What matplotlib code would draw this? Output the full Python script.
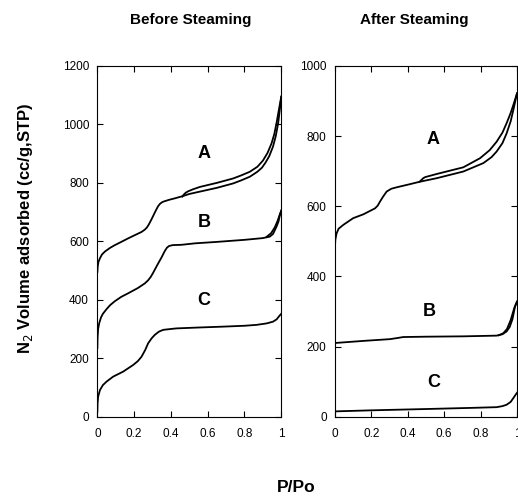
import matplotlib
matplotlib.use("Agg")
import matplotlib.pyplot as plt

plt.rcParams['font.family'] = ['Liberation Sans', 'DejaVu Sans']

# ---- Data: Before Steaming ----
bA_ads_x = [0, 0.002, 0.006, 0.014, 0.025, 0.041, 0.07, 0.095, 0.13, 0.167, 0.21, 0.24, 0.258, 0.27, 0.28,
            0.295, 0.315, 0.33, 0.34, 0.35, 0.36, 0.39, 0.421, 0.466, 0.5, 0.557, 0.65, 0.738, 0.78, 0.829,
            0.87, 0.895, 0.915, 0.935, 0.955, 0.97, 0.983, 0.992, 1.0]
bA_ads_y = [495, 515, 530, 542, 555, 565, 578, 587, 598, 610, 623, 632, 640, 648, 658,
            676, 702, 720, 728, 733, 736, 742, 747, 755, 762, 770, 783, 798, 808, 821,
            838, 852, 870, 892, 924, 960, 1004, 1050, 1095]
bA_des_x = [0.462, 0.47, 0.48, 0.493, 0.52, 0.557, 0.65, 0.738, 0.78, 0.829, 0.87, 0.90, 0.925, 0.947,
            0.962, 0.974, 0.987, 1.0]
bA_des_y = [753, 760, 766, 771, 778, 786, 800, 815, 825, 838, 855, 876, 902, 935, 967, 1004, 1050, 1095]

bB_ads_x = [0, 0.001, 0.004, 0.01, 0.02, 0.03, 0.05, 0.07, 0.095, 0.13, 0.167, 0.22, 0.258, 0.275, 0.29,
            0.303, 0.325, 0.349, 0.365, 0.378, 0.39, 0.41, 0.457, 0.53, 0.65, 0.8, 0.9, 0.9375, 0.955,
            0.974, 0.985, 0.992, 1.0]
bB_ads_y = [235, 270, 300, 320, 340, 352, 368, 382, 395, 410, 422, 440, 456, 466, 478,
            492, 518, 545, 565, 578, 584, 587, 588, 593, 598, 605, 611, 616, 625,
            650, 668, 688, 705]
bB_des_x = [0.92, 0.945, 0.965, 0.98, 0.992, 1.0]
bB_des_y = [615, 628, 648, 670, 692, 705]

bC_x = [0, 0.001, 0.004, 0.014, 0.03, 0.05, 0.086, 0.14, 0.195, 0.22, 0.24, 0.26, 0.276, 0.295, 0.3125,
        0.335, 0.358, 0.4, 0.43, 0.55, 0.684, 0.8, 0.865, 0.92, 0.955, 0.975, 0.99, 1.0]
bC_y = [17, 45, 68, 91, 108, 120, 137, 154, 177, 190, 205, 228, 251, 268, 280,
        291, 297, 300, 302, 305, 308, 311, 314, 319, 325, 333, 345, 352]

# ---- Data: After Steaming ----
aA_ads_x = [0, 0.002, 0.009, 0.02, 0.046, 0.10, 0.156, 0.22, 0.235, 0.247, 0.265, 0.284, 0.31, 0.339,
            0.412, 0.467, 0.559, 0.705, 0.815, 0.86, 0.888, 0.92, 0.943, 0.965, 0.98, 1.0]
aA_ads_y = [485, 505, 523, 536, 547, 566, 577, 594, 602, 613, 628, 642, 650, 654,
            663, 670, 680, 699, 723, 740, 756, 780, 808, 842, 875, 922]
aA_des_x = [0.465, 0.475, 0.485, 0.495, 0.559, 0.705, 0.797, 0.85, 0.888, 0.92, 0.943, 0.965, 0.98, 1.0]
aA_des_y = [670, 675, 680, 683, 692, 711, 737, 760, 784, 810, 837, 866, 889, 922]

aB_ads_x = [0, 0.156, 0.302, 0.34, 0.375, 0.5, 0.705, 0.888, 0.92, 0.943, 0.96, 0.975, 0.989, 1.0]
aB_ads_y = [210, 216, 221, 224, 227, 228, 229, 231, 235, 243, 256, 278, 314, 328]
aB_des_x = [0.9, 0.925, 0.945, 0.965, 0.985, 1.0]
aB_des_y = [232, 238, 250, 275, 310, 328]

aC_x = [0, 0.2, 0.522, 0.75, 0.888, 0.92, 0.943, 0.965, 0.98, 0.993, 1.0]
aC_y = [15, 18, 22, 25, 27, 30, 34, 42, 53, 63, 68]

x_ticks = [0, 0.2, 0.4, 0.6, 0.8, 1]
x_tick_labels = ['0', '0.2', '0.4', '0.6', '0.8', '1']
left_yticks = [0, 200, 400, 600, 800, 1000, 1200]
right_yticks = [0, 200, 400, 600, 800, 1000]

fig = plt.figure(figsize=(5.18, 4.96), dpi=100)
ax1 = fig.add_axes([0.188, 0.160, 0.355, 0.707])
ax2 = fig.add_axes([0.6467, 0.160, 0.3514, 0.707])

lw = 1.3
ax1.plot(bA_ads_x, bA_ads_y, color='black', lw=lw)
ax1.plot(bA_des_x, bA_des_y, color='black', lw=lw)
ax1.plot(bB_ads_x, bB_ads_y, color='black', lw=lw)
ax1.plot(bB_des_x, bB_des_y, color='black', lw=lw)
ax1.plot(bC_x, bC_y, color='black', lw=lw)

ax2.plot(aA_ads_x, aA_ads_y, color='black', lw=lw)
ax2.plot(aA_des_x, aA_des_y, color='black', lw=lw)
ax2.plot(aB_ads_x, aB_ads_y, color='black', lw=lw)
ax2.plot(aB_des_x, aB_des_y, color='black', lw=lw)
ax2.plot(aC_x, aC_y, color='black', lw=lw)

for ax, yt, ymax in [(ax1, left_yticks, 1200), (ax2, right_yticks, 1000)]:
    ax.set_xlim(0, 1)
    ax.set_ylim(0, ymax)
    ax.set_xticks(x_ticks)
    ax.set_xticklabels(x_tick_labels)
    ax.set_yticks(yt)
    ax.tick_params(direction='in', top=True, right=True, length=4, width=0.8, labelsize=8.5)
    ax.tick_params(axis='x', pad=8)
    ax.tick_params(axis='y', pad=6)
    for s in ax.spines.values():
        s.set_linewidth(0.8)

lbl = dict(fontsize=13, fontweight='bold', ha='center', va='center')
ax1.text(0.58, 902, 'A', **lbl)
ax1.text(0.58, 663, 'B', **lbl)
ax1.text(0.58, 399, 'C', **lbl)
ax2.text(0.54, 789, 'A', **lbl)
ax2.text(0.52, 299, 'B', **lbl)
ax2.text(0.54, 97, 'C', **lbl)

fig.text(191/518, 1 - 20/496, 'Before Steaming', fontsize=11, fontweight='bold', ha='center', va='center')
fig.text(414/518, 1 - 20/496, 'After Steaming', fontsize=11, fontweight='bold', ha='center', va='center')
fig.text(296/518, 1 - 488/496, 'P/Po', fontsize=12.5, fontweight='bold', ha='center', va='center')
fig.text(26/518, 1 - 228/496, 'N$_2$ Volume adsorbed (cc/g,STP)', fontsize=12, fontweight='bold',
         ha='center', va='center', rotation=90)

fig.savefig('out.png', dpi=100)
